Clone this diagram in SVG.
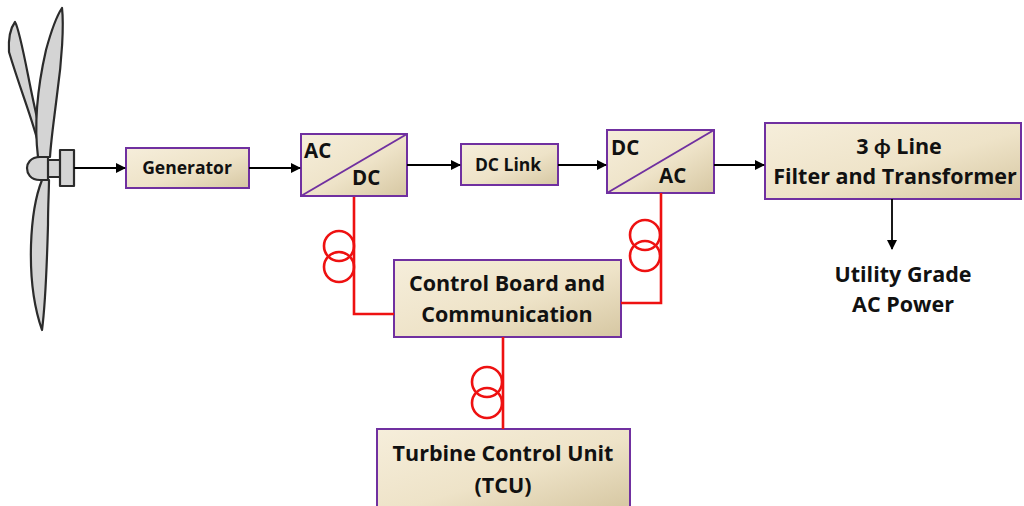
<svg xmlns="http://www.w3.org/2000/svg" width="1024" height="506" viewBox="0 0 1024 506">
<defs>
<linearGradient id="g" x1="0" y1="0" x2="1" y2="1">
<stop offset="0" stop-color="#f6eedb"/>
<stop offset="0.55" stop-color="#eee3c8"/>
<stop offset="1" stop-color="#d6c7a2"/>
</linearGradient>
<marker id="ah" markerWidth="10" markerHeight="10" refX="9" refY="5" orient="auto" markerUnits="userSpaceOnUse">
<path d="M0,0 L10,5 L0,10 Z" fill="#000"/>
</marker>
</defs>
<style>
.box{fill:url(#g);stroke:#7030a0;stroke-width:2}
.t{font-family:"Open Sans",Lato,"Liberation Sans",sans-serif;font-weight:bold;fill:#111}
.blade{fill:#d4d4d4;stroke:#2b2b2b;stroke-width:2.2;stroke-linejoin:round}
.arr{stroke:#000;stroke-width:1.8;fill:none;marker-end:url(#ah)}
.red{stroke:#ee1111;stroke-width:2.6;fill:none}
</style>
<rect width="1024" height="506" fill="#fff"/>
<g id="turbine">
<path class="blade" d="M40,150 C33,120 22,95 9,52 C8,35 12,26 15,22 C19,28 24,55 30,85 C35,110 40,130 43,150 Z"/>
<path class="blade" d="M38,157 C34,125 38,85 46,50 C52,28 58,14 62,8 C64,25 62,60 57,95 C54,120 51,140 50,157 Z"/>
<path class="blade" d="M42,180 C36,195 32,215 31,245 C30,280 35,310 42,330 C46,300 47,260 48,225 C48,205 49,190 49,180 Z"/>
<rect class="blade" x="47" y="160" width="14" height="17"/>
<path class="blade" d="M48,157 L40,157 C30,157 27,164 27,168 C27,173 30,180 40,180 L48,180 Z"/>
<rect class="blade" x="60" y="150" width="14" height="36"/>
</g>
<g id="generator">
<rect class="box" x="126" y="148" width="123" height="40"/>
<text class="t" x="187" y="174" font-size="17.5" text-anchor="middle">Generator</text>
</g>
<g id="acdc">
<rect class="box" x="301" y="134" width="106" height="62"/>
<line x1="301" y1="196" x2="407" y2="134" stroke="#7030a0" stroke-width="2"/>
<text class="t" x="304" y="158" font-size="20.5">AC</text>
<text class="t" x="352" y="185" font-size="20.5">DC</text>
</g>
<g id="dclink">
<rect class="box" x="461" y="144" width="97" height="41"/>
<text class="t" x="508" y="171" font-size="17.5" text-anchor="middle">DC Link</text>
</g>
<g id="dcac">
<rect class="box" x="607" y="130" width="107" height="63"/>
<line x1="607" y1="193" x2="714" y2="130" stroke="#7030a0" stroke-width="2"/>
<text class="t" x="611" y="155" font-size="20.5">DC</text>
<text class="t" x="659" y="183" font-size="20.5">AC</text>
</g>
<g id="filter">
<rect class="box" x="765" y="123" width="256" height="76"/>
<text class="t" x="899" y="154" font-size="21.5" text-anchor="middle">3 ϕ Line</text>
<text class="t" x="895" y="184" font-size="21.5" text-anchor="middle">Filter and Transformer</text>
</g>
<g id="utility">
<text class="t" x="903" y="282" font-size="21.5" text-anchor="middle">Utility Grade</text>
<text class="t" x="903" y="312" font-size="21.5" text-anchor="middle">AC Power</text>
</g>
<g id="control">
<rect class="box" x="394" y="260" width="227" height="77"/>
<text class="t" x="507" y="291" font-size="21.5" text-anchor="middle">Control Board and</text>
<text class="t" x="507" y="322" font-size="21.5" text-anchor="middle">Communication</text>
</g>
<g id="tcu">
<rect class="box" x="377" y="429" width="253" height="80"/>
<text class="t" x="503" y="461" font-size="21.5" text-anchor="middle">Turbine Control Unit</text>
<text class="t" x="503" y="493" font-size="21.5" text-anchor="middle">(TCU)</text>
</g>
<g id="connectors">
<line class="arr" x1="74" y1="168" x2="125" y2="168"/>
<line class="arr" x1="249" y1="168" x2="300" y2="168"/>
<line class="arr" x1="407" y1="165" x2="460" y2="165"/>
<line class="arr" x1="558" y1="165" x2="606" y2="165"/>
<line class="arr" x1="714" y1="165" x2="764" y2="165"/>
<line class="arr" x1="892" y1="199" x2="892" y2="249"/>
<polyline class="red" points="354,197 354,314 394,314"/>
<circle class="red" cx="339" cy="246" r="15"/>
<circle class="red" cx="339" cy="267" r="15"/>
<polyline class="red" points="661,193 661,303 621,303"/>
<circle class="red" cx="645" cy="235" r="15"/>
<circle class="red" cx="645" cy="256" r="15"/>
<line class="red" x1="503" y1="337" x2="503" y2="429"/>
<circle class="red" cx="487" cy="382" r="15"/>
<circle class="red" cx="487" cy="403" r="15"/>
</g>
</svg>
